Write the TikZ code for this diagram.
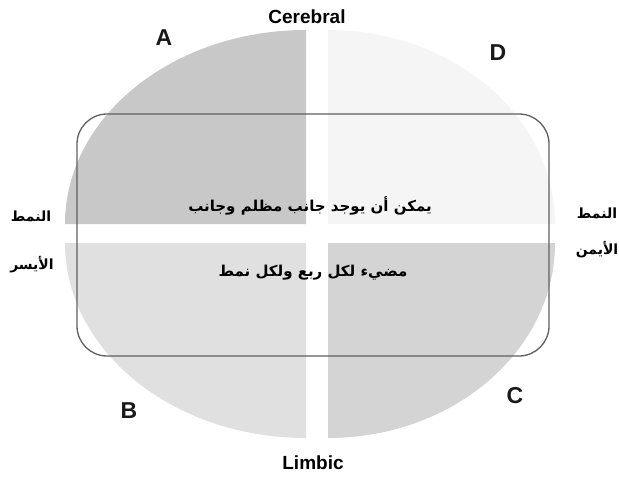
\documentclass[tikz,border=0pt]{standalone}
\usepackage{fontspec}
\setmainfont{Liberation Sans}
\newfontfamily\arabicfont[Script=Arabic]{DejaVu Sans}
\TeXXeTstate=1
\definecolor{quadA}{RGB}{200,200,200}
\definecolor{quadB}{RGB}{224,224,224}
\definecolor{quadC}{RGB}{212,212,212}
\definecolor{quadD}{RGB}{245,245,245}
\definecolor{frameline}{RGB}{95,95,95}
\begin{document}
\begin{tikzpicture}[x=1pt,y=-1pt,
  axislabel/.style={font=\fontsize{19}{22}\selectfont\bfseries, text=black},
  quadlabel/.style={font=\fontsize{23}{27}\selectfont\bfseries, text=black!90},
  arabictext/.style={font=\arabicfont\fontsize{15}{18}\selectfont\bfseries, text=black},
  sidetext/.style={font=\arabicfont\fontsize{14}{17}\selectfont\bfseries, text=black},
  framebox/.style={draw=frameline, line width=1.3pt, rounded corners=30pt}]
\useasboundingbox (0,0) rectangle (619,477);
% four separated quarters of the ellipse
\fill[quadA] (306,224) -- (65,224) arc[start angle=180, end angle=90, x radius=241pt, y radius=194pt] -- cycle;
\fill[quadD] (328,224) -- (328,30) arc[start angle=90, end angle=0, x radius=227pt, y radius=194pt] -- cycle;
\fill[quadB] (306,243) -- (65,243) arc[start angle=180, end angle=270, x radius=241pt, y radius=195pt] -- cycle;
\fill[quadC] (328,243) -- (555,243) arc[start angle=0, end angle=-90, x radius=227pt, y radius=195pt] -- cycle;
% rounded frame
\node[framebox, minimum width=472pt, minimum height=242pt, inner sep=0pt] (frame) at (313,235) {};
% axis and quadrant labels
\node[axislabel] (cerebral) at (307,17) {Cerebral};
\node[axislabel] (limbic) at (313,463) {Limbic};
\node[quadlabel] (A) at (164,38) {A};
\node[quadlabel] (D) at (498,53) {D};
\node[quadlabel] (B) at (129,411) {B};
\node[quadlabel] (C) at (515,396) {C};
% central text
\node[arabictext] (line1) at (310,206) {\beginR يمكن أن يوجد جانب مظلم وجانب\endR};
\node[arabictext] (line2) at (313,273) {\beginR مضيء لكل ربع ولكل نمط\endR};
% side labels
\node[sidetext] (leftA) at (31,216) {\beginR النمط\endR};
\node[sidetext] (leftB) at (32,265) {\beginR الأيسر\endR};
\node[sidetext] (rightA) at (597,213) {\beginR النمط\endR};
\node[sidetext] (rightB) at (597,250) {\beginR الأيمن\endR};
\end{tikzpicture}
\end{document}
